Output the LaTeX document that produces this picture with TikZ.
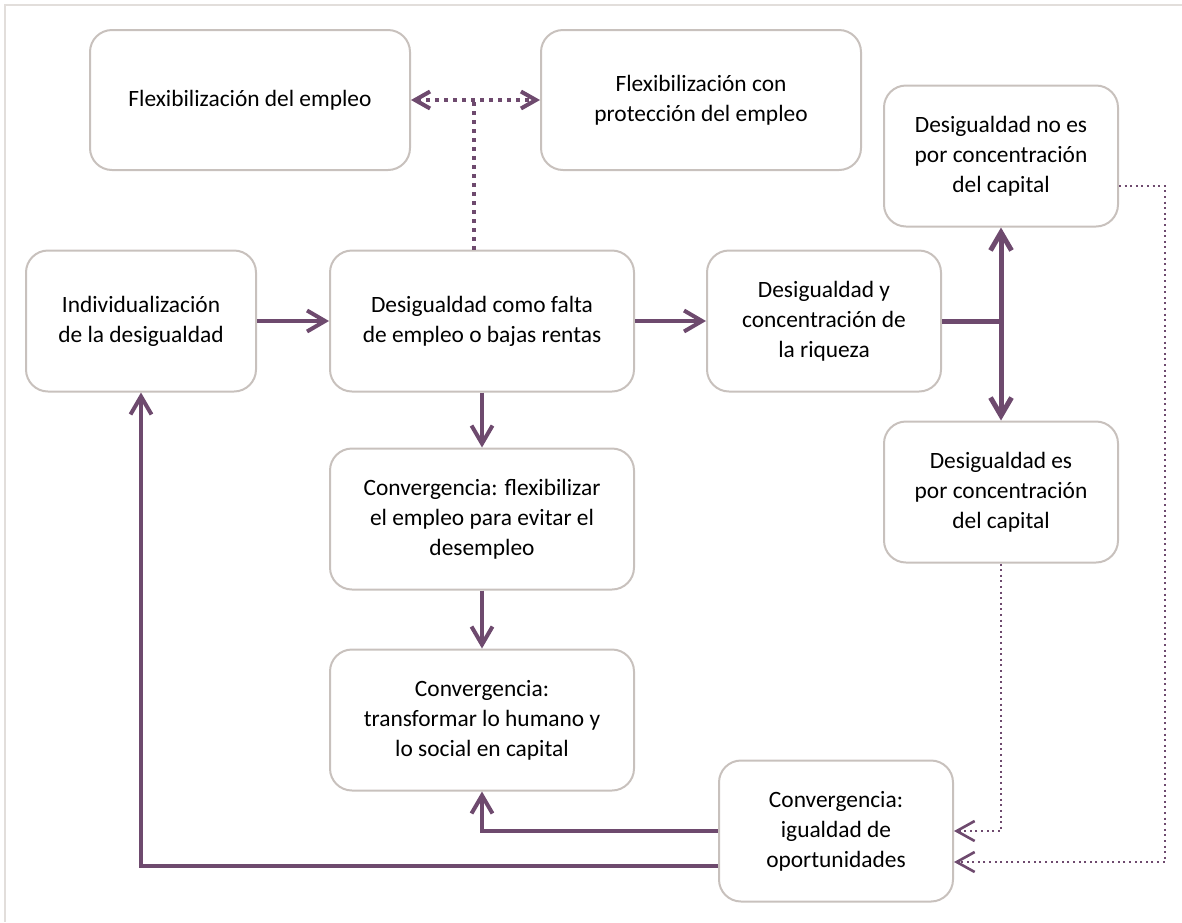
\documentclass[tikz,border=0pt]{standalone}
\usepackage{fontspec}
\setmainfont{Carlito}
\usetikzlibrary{arrows.meta}
\definecolor{ciruela}{RGB}{110,74,110}
\definecolor{gris}{RGB}{200,193,189}
\definecolor{marco}{RGB}{226,222,219}

\begin{document}
\begin{tikzpicture}[x=0.5pt, y=-0.5pt,
    caja/.style={draw=gris, line width=1pt, rounded corners=11pt, align=center,
        inner sep=0pt, font=\fontsize{11.7}{15}\selectfont},
    ancha/.style={caja, minimum width=160pt, minimum height=70pt},
    media/.style={caja, minimum width=152pt, minimum height=70.5pt},
    estrecha/.style={caja, minimum width=117pt, minimum height=70.5pt},
    flecha/.style={draw=ciruela, line width=2pt, -{Straight Barb[length=9pt, width=10.5pt]}},
    doble/.style={draw=ciruela, line width=2.5pt,
        {Straight Barb[length=9pt, width=10.5pt]}-{Straight Barb[length=9pt, width=10.5pt]}},
    punteado/.style={draw=ciruela, line width=2pt, dash pattern=on 2pt off 2.5pt},
    fino/.style={draw=ciruela, line width=1pt, dash pattern=on 1pt off 1.8pt,
        -{Straight Barb[length=9pt, width=10pt, line width=1.3pt]}}]

    \useasboundingbox (0,0) rectangle (1182,922);
    \draw[marco, line width=1pt] (5,922) -- (5,5) -- (1182,5);

    \node[ancha] (flex) at (250,100) {Flexibilización del empleo};
    \node[ancha] (flexprot) at (701,100) {Flexibilización con\\protección del empleo};
    \node[estrecha] (noes) at (1001,156) {Desigualdad no es\\por concentración\\del capital};
    \node[estrecha, minimum width=115pt] (indiv) at (141,321) {Individualización\\de la desigualdad};
    \node[media] (falta) at (482,321) {Desigualdad como falta\\de empleo o bajas rentas};
    \node[estrecha] (riqueza) at (824,321) {Desigualdad y\\concentración de\\la riqueza};
    \node[estrecha] (es) at (1001,492) {Desigualdad es\\por concentración\\del capital};
    \node[media] (flexemp) at (482,519) {Convergencia: flexibilizar\\el empleo para evitar el\\desempleo};
    \node[media] (transf) at (482,720) {Convergencia:\\transformar lo humano y\\lo social en capital};
    \node[estrecha] (igual) at (836,831) {Convergencia:\\igualdad de\\oportunidades};

    \coordinate (cruce) at (474,100);
    \coordinate (margen) at (1165,0);

    \draw[flecha] (indiv) -- (falta);
    \draw[flecha] (falta) -- (riqueza);
    \draw[flecha] (falta) -- (flexemp);
    \draw[flecha] (flexemp) -- (transf);
    \draw[draw=ciruela, line width=2.5pt] (riqueza.east) -- (riqueza.east -| noes.south);
    \draw[doble] (noes.south) -- (es.north);
    \draw[flecha] (igual.west) -| (transf.south);
    \draw[flecha] ([yshift=-17.5pt]igual.west) -| (indiv.south);

    \draw[punteado] (cruce |- falta.north) -- (cruce);
    \draw[punteado, {Straight Barb[length=7.5pt, width=8.5pt]}-{Straight Barb[length=7.5pt, width=8.5pt]}]
        (flex) -- (flexprot);

    \draw[fino] (es.south) |- (igual.east);
    \draw[fino] ([yshift=-15pt]noes.east) -- ([yshift=-15pt]noes.east -| margen)
        |- ([yshift=-15.5pt]igual.east);
\end{tikzpicture}
\end{document}
